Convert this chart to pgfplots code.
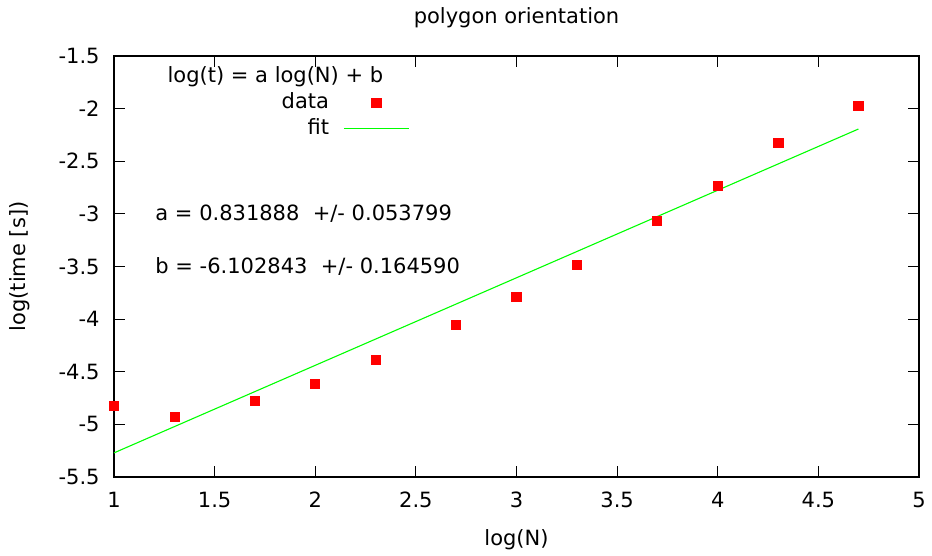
\documentclass[border=0pt]{standalone}
\usepackage{pgfplots}
\pgfplotsset{compat=1.18}
\usepackage{fontspec}
\setmainfont{DejaVu Sans}

\definecolor{fitgreen}{RGB}{0,255,0}

% legend sample for the fitted line
\pgfplotsset{fit legend/.style={legend image code/.code={%
  \draw[fitgreen, line width=0.8pt] (0pt,0.25pt) -- (32.5pt,0.25pt);}}}

% measured run times, log10 of problem size vs log10 of seconds
\pgfplotstableread{
logN   logt
1.000  -4.827
1.301  -4.932
1.699  -4.779
2.000  -4.618
2.301  -4.390
2.699  -4.057
3.000  -3.791
3.301  -3.487
3.699  -3.068
4.000  -2.736
4.301  -2.327
4.699  -1.975
}\timings

% least-squares fit log(t) = a log(N) + b, sampled at its two ends
\pgfplotstableread{
logN   logt
1.000  -5.270955
4.699  -2.193809
}\fitline

\begin{document}
\fontsize{10.5pt}{12.6pt}\selectfont
\begin{tikzpicture}
\begin{axis}[
  scale only axis,
  width=402.5pt, height=210.5pt,
  xmin=1, xmax=5, ymin=-5.5, ymax=-1.5,
  xtick={1,1.5,...,5},
  xticklabels={1,1.5,2,2.5,3,3.5,4,4.5,5},
  ytick={-5.5,-5,...,-1.5},
  yticklabels={-5.5,-5,-4.5,-4,-3.5,-3,-2.5,-2,-1.5},
  tick align=inside,
  major tick length=5.5pt,
  minor tick num=0,
  axis line style={black, line width=0.7pt},
  every tick/.style={black, line width=0.6pt},
  xticklabel style={anchor=center, inner sep=0pt, yshift=-11.5pt},
  yticklabel style={anchor=east, inner sep=0pt, xshift=-7pt},
  title={polygon orientation},
  every axis title shift=0pt,
  title style={at={([yshift=19pt]axis description cs:0.5,1)}, anchor=center, inner sep=0pt},
  xlabel={log(N)},
  xlabel style={at={([yshift=-31.5pt]axis description cs:0.5,0)}, anchor=center, inner sep=0pt},
  ylabel={log(time [s])},
  ylabel style={at={([xshift=-47pt]axis description cs:0,0.5)}, anchor=center, inner sep=0pt},
  clip=false,
  legend cell align=right,
  legend plot pos=right,
  legend image code/.code={%
    \draw[mark repeat=2,mark phase=2,#1]
      plot coordinates {(0pt,0pt) (16.25pt,0pt) (32.5pt,0pt)};},
  legend style={
    draw=none, fill=none, inner sep=0pt,
    at={(axis cs:2.471,-2.07)}, anchor=east,
    column sep=7pt, row sep=3.5pt,
    nodes={inner sep=0pt, text height=7.7pt, text depth=2pt},
  },
]
\addplot[only marks, mark=square*, mark size=2.3pt, color=red]
  table[x=logN, y=logt] {\timings};
\addlegendentry{data}
\addplot[color=fitgreen, line width=0.55pt, fit legend]
  table[x=logN, y=logt] {\fitline};
\addlegendentry{fit}

\node[anchor=center, inner sep=0pt] at (axis cs:1.802,-1.70) {log(t) = a log(N) + b};
\node[anchor=west, inner sep=0pt] at (axis cs:1.204,-3.0) {a = 0.831888\ \ +/- 0.053799};
\node[anchor=west, inner sep=0pt] at (axis cs:1.204,-3.5) {b = -6.102843\ \ +/- 0.164590};

% page extent around the plot area
\path ([xshift=-57pt,yshift=-39.5pt]rel axis cs:0,0) rectangle ([xshift=6.5pt,yshift=28pt]rel axis cs:1,1);
\end{axis}
\end{tikzpicture}
\end{document}
